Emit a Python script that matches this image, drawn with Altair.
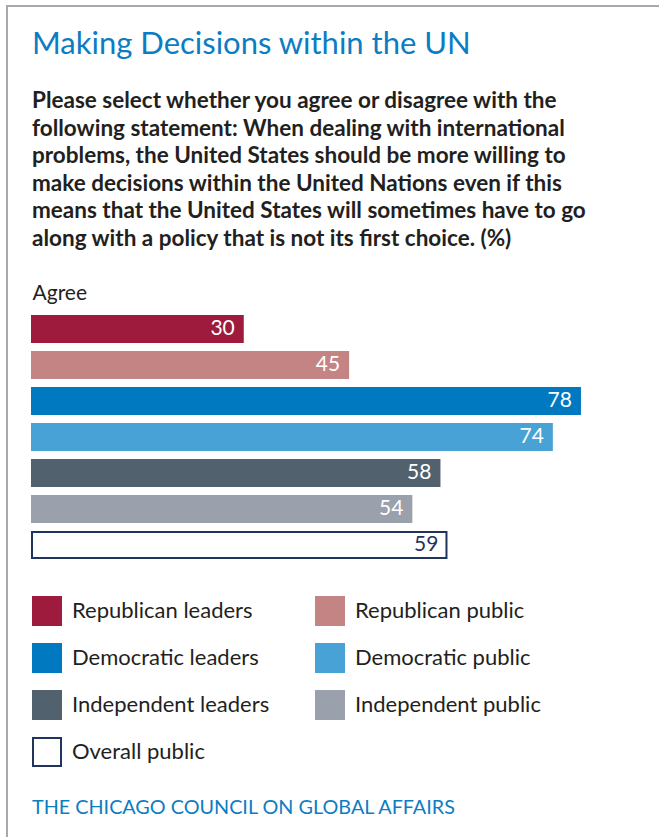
import altair as alt
import pandas as pd

# ---- data ----
groups = ["Republican leaders", "Republican public", "Democratic leaders",
          "Democratic public", "Independent leaders", "Independent public",
          "Overall public"]
values = [30, 45, 78, 74, 58, 54, 59]
fills = ["#9E1B3D", "#C48484", "#0079C1", "#48A2D6", "#52616E", "#9AA1AC", "#FFFFFF"]
strokes = ["#9E1B3D", "#C48484", "#0079C1", "#48A2D6", "#52616E", "#9AA1AC", "#1F3560"]

title_text = "Making Decisions within the UN"
subtitle_lines = [
    "Please select whether you agree or disagree with the",
    "following statement: When dealing with international",
    "problems, the United States should be more willing to",
    "make decisions within the United Nations even if this",
    "means that the United States will sometimes have to go",
    "along with a policy that is not its first choice. (%)",
]
axis_title = "Agree"
footer_text = "THE CHICAGO COUNCIL ON GLOBAL AFFAIRS"

FONT = "Lato"
BLUE = "#0B7DC3"
NAVY = "#1F3560"
INK = "#231F20"
FRAME = "#A7A9B0"

df = pd.DataFrame({"group": groups, "value": values})

legend_cfg = dict(title=None, orient="none", legendX=0, legendY=285,
                  direction="horizontal", columns=2, symbolType="square",
                  symbolSize=784, symbolStrokeWidth=2, labelFont=FONT,
                  labelFontSize=22, labelColor=INK, labelLimit=400,
                  labelOffset=10, rowPadding=11, columnPadding=42, padding=0)

y_enc = alt.Y("group:N", sort=groups, axis=None,
              scale=alt.Scale(paddingInner=0.24, paddingOuter=0.12))
x_enc = alt.X("value:Q",
              scale=alt.Scale(domain=[0, 80], nice=False),
              axis=alt.Axis(orient="top", labels=False, ticks=False, domain=False,
                            grid=False, title=axis_title, titleAnchor="start",
                            titleAlign="left", titleX=0, titleY=-12,
                            titleBaseline="alphabetic", titleFont=FONT,
                            titleFontSize=21, titleFontWeight="normal",
                            titleColor=INK))

bars = alt.Chart(df).mark_bar(strokeWidth=2, height=26).encode(
    x=x_enc,
    y=y_enc,
    fill=alt.Fill("group:N", sort=groups,
                  scale=alt.Scale(domain=groups, range=fills),
                  legend=alt.Legend(**legend_cfg)),
    stroke=alt.Stroke("group:N", sort=groups,
                      scale=alt.Scale(domain=groups, range=strokes),
                      legend=alt.Legend(**legend_cfg)),
)

labels = alt.Chart(df).mark_text(align="right", baseline="middle", dx=-8,
                                 font=FONT, fontSize=21).encode(
    x=alt.X("value:Q"),
    y=alt.Y("group:N", sort=groups),
    text=alt.Text("value:Q"),
    color=alt.condition(alt.datum.group == "Overall public",
                        alt.value(NAVY), alt.value("white")),
)

one = alt.Data(values=[{"k": 1}])
frame_left = alt.Chart(one).mark_rule(color=FRAME, strokeWidth=2).encode(
    x=alt.value(-25), y=alt.value(-305), y2=alt.value(560))
frame_top = alt.Chart(one).mark_rule(color=FRAME, strokeWidth=2).encode(
    x=alt.value(-26), x2=alt.value(640), y=alt.value(-305))

footer = alt.Chart(alt.Data(values=[{"t": footer_text}])).mark_text(
    align="left", baseline="middle", font=FONT, fontSize=19.8, color=BLUE).encode(
    x=alt.value(0), y=alt.value(497), text="t:N")

chart = alt.layer(frame_left, frame_top, bars, labels, footer).properties(
    width=562, height=252,
    padding={"left": 32, "top": 311, "right": 65, "bottom": 274},
    autosize=alt.AutoSizeParams(type="none"),
    background="white",
    title=alt.TitleParams(
        text=title_text, subtitle=subtitle_lines, anchor="start", frame="group",
        font=FONT, fontSize=31, fontWeight="normal", color=BLUE,
        subtitleFont=FONT, subtitleFontSize=22.5, subtitleFontWeight="bold",
        subtitleColor=INK, subtitleLineHeight=27.5, subtitlePadding=29,
        offset=-246),
).configure_view(stroke=None)

chart.save("out.html", embed_options={"renderer": "svg", "actions": False})
